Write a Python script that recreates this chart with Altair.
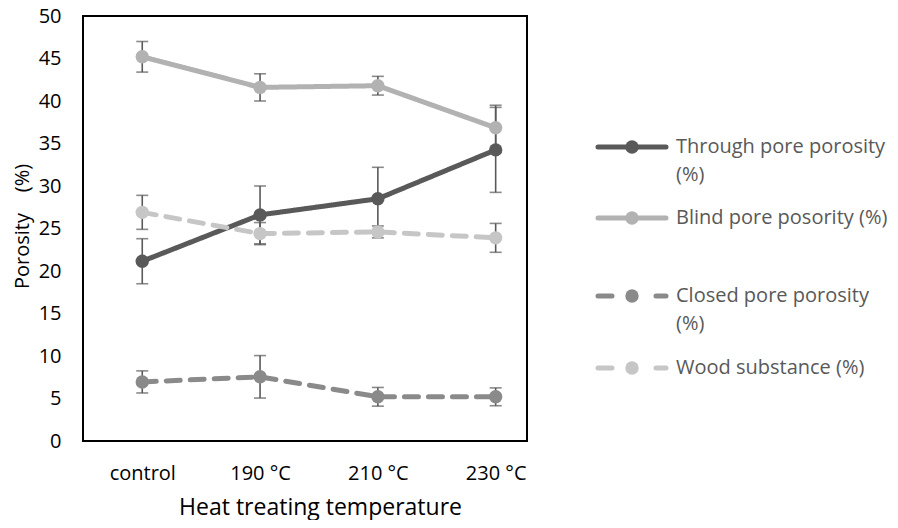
import altair as alt
import pandas as pd

categories = ["control", "190 °C", "210 °C", "230 °C"]
series_names = ["Through pore porosity (%)", "Blind pore posority (%)",
                "Closed pore porosity (%)", "Wood substance (%)"]
legend_lines = [["Through pore porosity", "(%)"], ["Blind pore posority (%)"],
                ["Closed pore porosity", "(%)"], ["Wood substance (%)"]]

through = [21.15, 26.6, 28.5, 34.25]
through_err = [2.65, 3.4, 3.7, 5.0]
blind = [45.2, 41.6, 41.8, 36.85]
blind_err = [1.8, 1.6, 1.1, 2.65]
closed = [6.95, 7.55, 5.2, 5.2]
closed_err = [1.3, 2.5, 1.1, 1.05]
wood = [26.9, 24.4, 24.6, 23.9]
wood_err = [2.0, 1.3, 0.7, 1.7]

line_colors = ["#595959", "#b2b2b2", "#8a8a8a", "#c6c6c6"]
dashes = [[1, 0], [1, 0], [14, 10], [14, 10]]

values = [through, blind, closed, wood]
errors = [through_err, blind_err, closed_err, wood_err]

rows = []
for s, vals, errs in zip(series_names, values, errors):
    for i, (c, v, e) in enumerate(zip(categories, vals, errs)):
        rows.append({"series": s, "idx": i, "category": c, "value": v,
                     "lo": v - e, "hi": v + e})
df = pd.DataFrame(rows)

FONT = "Open Sans"
label_expr = "[" + ",".join("'" + c + "'" for c in categories) + "][datum.value]"

x_enc = alt.X("idx:Q",
              scale=alt.Scale(domain=[-0.503, 3.266], nice=False, zero=False),
              axis=alt.Axis(values=[0, 1, 2, 3], labelExpr=label_expr,
                            title="Heat treating temperature", ticks=False,
                            domain=False, grid=False, labelFontSize=20,
                            labelColor="#000", labelPadding=22,
                            titleFontSize=23, titleFontWeight="normal",
                            titleColor="#000", titleX=237, titleY=73,
                            titleAlign="center", titleBaseline="alphabetic",
                            labelFont=FONT, titleFont=FONT))
y_axis = alt.Axis(values=list(range(0, 51, 5)),
                  title="Porosity\u00a0\u00a0\u00a0\u00a0(%)",
                  ticks=False, domain=False, grid=False, labelFontSize=20,
                  labelColor="#000", labelPadding=22, titleFontSize=20,
                  titleFontWeight="normal", titleColor="#000", titleX=-61,
                  titleY=210, titleAlign="center", titleBaseline="middle",
                  labelFont=FONT, titleFont=FONT)
y_scale = alt.Scale(domain=[0, 50], nice=False)

base = alt.Chart(df)
layers = []
for k, s in enumerate(series_names):
    b = base.transform_filter(alt.datum.series == s)
    err_rule = b.mark_rule(color="#595959", strokeWidth=1.6).encode(
        x=x_enc, y=alt.Y("lo:Q", scale=y_scale, axis=y_axis), y2="hi:Q")
    cap_hi = b.mark_tick(color="#595959", thickness=1.6, size=12,
                         orient="horizontal").encode(
        x=x_enc, y=alt.Y("hi:Q", scale=y_scale, axis=y_axis))
    cap_lo = b.mark_tick(color="#595959", thickness=1.6, size=12,
                         orient="horizontal").encode(
        x=x_enc, y=alt.Y("lo:Q", scale=y_scale, axis=y_axis))
    line = b.mark_line(strokeWidth=5, strokeCap="round", strokeJoin="round",
                       color=line_colors[k], strokeDash=dashes[k]).encode(
        x=x_enc, y=alt.Y("value:Q", scale=y_scale, axis=y_axis),
        order="idx:Q")
    pts = b.mark_point(filled=True, size=180, opacity=1,
                       color=line_colors[k]).encode(
        x=x_enc, y=alt.Y("value:Q", scale=y_scale, axis=y_axis))
    layers += [err_rule, cap_hi, cap_lo, line, pts]

# manual legend (positions in plot pixels)
leg_df = pd.DataFrame({"series": series_names})
row_y = [131, 202, 280, 352]
line_gap = 28
for k, s in enumerate(series_names):
    lb = alt.Chart(leg_df).transform_filter(alt.datum.series == s)
    dash = [1, 0] if dashes[k] == [1, 0] else [14, 44]
    layers.append(lb.mark_rule(strokeWidth=5, strokeCap="round",
                               color=line_colors[k], strokeDash=dash).encode(
        x=alt.value(515), x2=alt.value(583), y=alt.value(row_y[k])))
    layers.append(lb.mark_point(filled=True, size=180, opacity=1,
                                color=line_colors[k]).encode(
        x=alt.value(549), y=alt.value(row_y[k])))
    for j, txt in enumerate(legend_lines[k]):
        layers.append(lb.mark_text(text=txt, align="left", baseline="middle",
                                   font=FONT, fontSize=20,
                                   color="#595959").encode(
            x=alt.value(593), y=alt.value(row_y[k] + j * line_gap)))

chart = alt.layer(*layers).properties(
    width=444, height=425,
    autosize=alt.AutoSizeParams(type="none"),
    padding={"left": 75, "top": 8, "right": 363, "bottom": 79},
).configure(font=FONT, view=alt.ViewConfig(stroke="#000", strokeWidth=2))

chart.save("out.html", embed_options={"renderer": "svg", "actions": False})
